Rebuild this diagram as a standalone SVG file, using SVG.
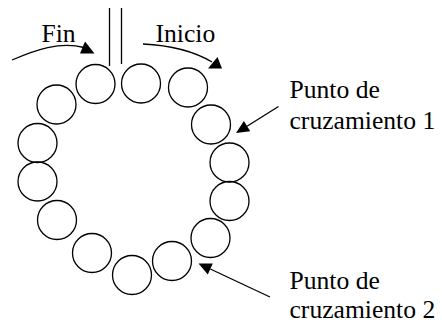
<svg xmlns="http://www.w3.org/2000/svg" width="442" height="324" viewBox="0 0 442 324">
  <style>
    .ring { fill: none; stroke: #000; stroke-width: 1.3; }
    .wire { fill: none; stroke: #000; stroke-width: 1.3; }
    .head { fill: #000; stroke: none; }
    .lbl { font-family: "Liberation Serif", "Times New Roman", serif; font-size: 25.6px; fill: #000; }
  </style>
  <rect width="442" height="324" fill="#fff"/>

  <!-- ring of coils -->
  <g id="coils">
    <g id="coil-1"><circle class="ring" cx="95.5" cy="84" r="19.5"/></g>
    <g id="coil-2"><circle class="ring" cx="141" cy="83.5" r="19.5"/></g>
    <g id="coil-3"><circle class="ring" cx="188" cy="87.5" r="19.5"/></g>
    <g id="coil-4"><circle class="ring" cx="211" cy="124.5" r="19.5"/></g>
    <g id="coil-5"><circle class="ring" cx="229.5" cy="162.5" r="19.5"/></g>
    <g id="coil-6"><circle class="ring" cx="229.5" cy="201" r="19.5"/></g>
    <g id="coil-7"><circle class="ring" cx="210.5" cy="238" r="19.5"/></g>
    <g id="coil-8"><circle class="ring" cx="172" cy="261" r="19.5"/></g>
    <g id="coil-9"><circle class="ring" cx="132" cy="275" r="19.5"/></g>
    <g id="coil-10"><circle class="ring" cx="92" cy="253" r="19.5"/></g>
    <g id="coil-11"><circle class="ring" cx="57" cy="220" r="19.5"/></g>
    <g id="coil-12"><circle class="ring" cx="37.5" cy="181.5" r="19.5"/></g>
    <g id="coil-13"><circle class="ring" cx="37.5" cy="143" r="19.5"/></g>
    <g id="coil-14"><circle class="ring" cx="56.5" cy="104.5" r="19.5"/></g>
  </g>

  <!-- lead wires -->
  <g id="leads">
    <line class="wire" x1="109.5" y1="8" x2="109.5" y2="66"/>
    <line class="wire" x1="121.5" y1="8" x2="121.5" y2="64"/>
  </g>

  <!-- labels -->
  <g id="label-fin"><text class="lbl" x="41.5" y="41.5">Fin</text></g>
  <g id="label-inicio"><text class="lbl" x="155.5" y="41.5">Inicio</text></g>
  <g id="label-cruce-1">
    <text class="lbl" x="289.5" y="97.5">Punto de</text>
    <text class="lbl" x="289.5" y="128.5">cruzamiento 1</text>
  </g>
  <g id="label-cruce-2">
    <text class="lbl" x="289.5" y="289">Punto de</text>
    <text class="lbl" x="289.5" y="318">cruzamiento 2</text>
  </g>

  <!-- connectors -->
  <g id="connectors">
    <path class="wire" d="M12,60 C35,50 60,41 84,47.5"/>
    <polygon class="head" points="94.5,53.5 85,41.5 80,53.5"/>

    <path class="wire" d="M143,44 Q185,46 212,62"/>
    <polygon class="head" points="222,68.5 217.5,57 208,68.5"/>

    <line class="wire" x1="278.5" y1="106.5" x2="247" y2="126.2"/>
    <polygon class="head" points="236,133 250.2,131.3 243.9,121.1"/>

    <line class="wire" x1="270" y1="297" x2="210.3" y2="269"/>
    <polygon class="head" points="198.5,263.5 212.8,263.6 207.8,274.4"/>
  </g>
</svg>
